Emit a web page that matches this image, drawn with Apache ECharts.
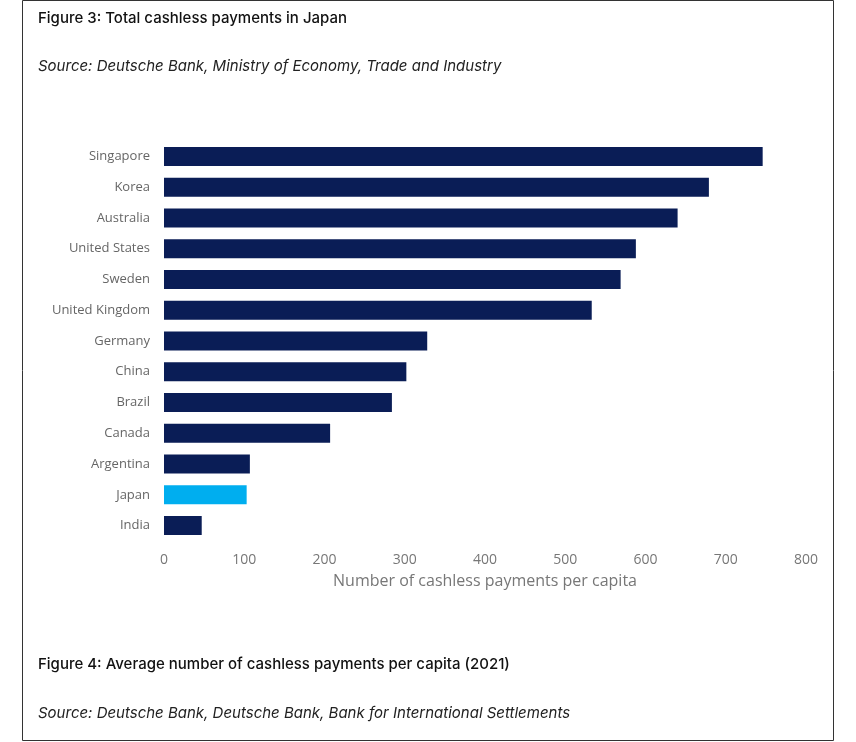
<!DOCTYPE html>
<html>
<head>
<meta charset="utf-8">
<script src="https://cdn.jsdelivr.net/npm/echarts@6/dist/echarts.min.js"></script>
<style>html,body{margin:0;padding:0;background:#fff}#chart{width:856px;height:742px}</style>
</head>
<body>
<div id="chart"></div>
<script>
const countries = ["Singapore", "Korea", "Australia", "United States", "Sweden", "United Kingdom",
    "Germany", "China", "Brazil", "Canada", "Argentina", "Japan", "India"];
const payments = [746, 679, 640, 588, 569, 533, 328, 302, 284, 207, 107, 103, 47];
const highlight = "Japan";

const chart = echarts.init(document.getElementById("chart"));
const option = {
    animation: false,
    grid: { left: 164, right: 50, top: 141, bottom: 201 },
    graphic: [
        { type: 'rect', shape: { x: 22.5, y: 0.5, width: 811, height: 740 },
          style: { fill: 'none', stroke: '#333', lineWidth: 1 } },
        { type: 'text', left: 38, top: 11, style: { text: 'Figure 3: Total cashless payments in Japan',
          font: '500 15px Inter, sans-serif', fill: '#111' } },
        { type: 'text', left: 38, top: 59, style: { text: 'Source: Deutsche Bank, Ministry of Economy, Trade and Industry',
          font: 'italic 15px Inter, sans-serif', fill: '#222' } },
        { type: 'text', left: 38, top: 657, style: { text: 'Figure 4: Average number of cashless payments per capita (2021)',
          font: '500 15px Inter, sans-serif', fill: '#111' } },
        { type: 'text', left: 38, top: 706, style: { text: 'Source: Deutsche Bank, Deutsche Bank, Bank for International Settlements',
          font: 'italic 15px Inter, sans-serif', fill: '#222' } }
    ],
    xAxis: {
        type: 'value', min: 0, max: 800, interval: 100,
        name: 'Number of cashless payments per capita',
        nameLocation: 'middle', nameGap: 32,
        nameTextStyle: { color: '#777', fontSize: 16, fontFamily: 'Open Sans' },
        axisLabel: { color: '#777', fontSize: 14, fontFamily: 'Open Sans', margin: 12 },
        splitLine: { show: false }, axisLine: { show: false }, axisTick: { show: false }
    },
    yAxis: {
        type: 'category', inverse: true, data: countries,
        axisLabel: { color: '#666', fontSize: 13, fontFamily: 'Open Sans', margin: 14 },
        axisLine: { show: false }, axisTick: { show: false }
    },
    series: [{
        type: 'bar', barWidth: 19,
        data: payments.map((v, i) => ({
            value: v,
            itemStyle: { color: countries[i] === highlight ? '#00aeef' : '#0a1d56' }
        }))
    }]
};
chart.setOption(option);
</script>
</body>
</html>
